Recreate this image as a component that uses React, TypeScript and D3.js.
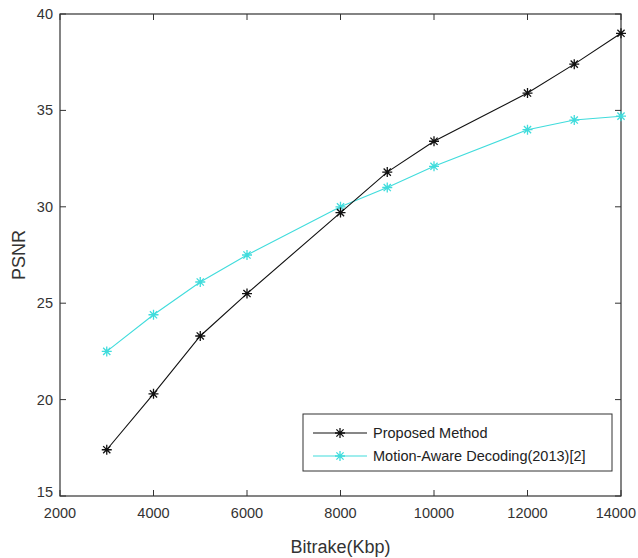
import React, { useEffect, useRef } from "react";
import * as d3 from "d3";

const bitrates = [3000, 4000, 5000, 6000, 8000, 9000, 10000, 12000, 13000, 14000];
const proposed = [17.4, 20.3, 23.3, 25.5, 29.7, 31.8, 33.4, 35.9, 37.4, 39.0];
const motionAware = [22.5, 24.4, 26.1, 27.5, 30.0, 31.0, 32.1, 34.0, 34.5, 34.7];
const xTicks = [2000, 4000, 6000, 8000, 10000, 12000, 14000];
const yTicks = [15, 20, 25, 30, 35, 40];
const seriesNames = ["Proposed Method", "Motion-Aware Decoding(2013)[2]"];
const seriesColors = ["#111111", "#40dcdc"];

const W = 638;
const H = 558;
const margin = { top: 14, right: 17, bottom: 62, left: 60 };

const App = () => {
  const svgRef = useRef(null);

  useEffect(() => {
    const svg = d3.select(svgRef.current);
    svg.selectAll("*").remove();

    const x = d3.scaleLinear().domain([2000, 14000]).range([margin.left, W - margin.right]);
    const y = d3.scaleLinear().domain([15, 40]).range([H - margin.bottom, margin.top]);
    const font = "'Liberation Sans', Arial, sans-serif";

    svg.append("rect").attr("width", W).attr("height", H).attr("fill", "#fff");

    // box
    svg
      .append("rect")
      .attr("x", x(2000))
      .attr("y", y(40))
      .attr("width", x(14000) - x(2000))
      .attr("height", y(15) - y(40))
      .attr("fill", "none")
      .attr("stroke", "#333")
      .attr("stroke-width", 1.2);

    const tl = 6;
    // ticks inside, on all four sides
    xTicks.forEach((t) => {
      svg.append("line").attr("x1", x(t)).attr("x2", x(t)).attr("y1", y(15)).attr("y2", y(15) - tl).attr("stroke", "#333");
      svg.append("line").attr("x1", x(t)).attr("x2", x(t)).attr("y1", y(40)).attr("y2", y(40) + tl).attr("stroke", "#333");
      const last = t === 14000;
      svg
        .append("text")
        .attr("x", last ? W - 2 : x(t))
        .attr("y", y(15) + 22)
        .attr("text-anchor", last ? "end" : "middle")
        .attr("font-family", font)
        .attr("font-size", 14.5)
        .attr("fill", "#333")
        .text(t);
    });
    yTicks.forEach((t) => {
      svg.append("line").attr("x1", x(2000)).attr("x2", x(2000) + tl).attr("y1", y(t)).attr("y2", y(t)).attr("stroke", "#333");
      svg.append("line").attr("x1", x(14000)).attr("x2", x(14000) - tl).attr("y1", y(t)).attr("y2", y(t)).attr("stroke", "#333");
      svg
        .append("text")
        .attr("x", x(2000) - 7)
        .attr("y", y(t) + (t === 15 ? 1 : 5))
        .attr("text-anchor", "end")
        .attr("font-family", font)
        .attr("font-size", 14.5)
        .attr("fill", "#333")
        .text(t);
    });

    svg
      .append("text")
      .attr("x", (x(2000) + x(14000)) / 2)
      .attr("y", 553)
      .attr("text-anchor", "middle")
      .attr("font-family", font)
      .attr("font-size", 18)
      .attr("fill", "#333")
      .text("Bitrake(Kbp)");
    svg
      .append("text")
      .attr("transform", `translate(25, ${(y(15) + y(40)) / 2}) rotate(-90)`)
      .attr("text-anchor", "middle")
      .attr("font-family", font)
      .attr("font-size", 18)
      .attr("fill", "#333")
      .text("PSNR");

    const star = (g, cx, cy, color, r = 5) => {
      const d = r * 0.72;
      const p = `M${cx - r},${cy}L${cx + r},${cy}M${cx},${cy - r}L${cx},${cy + r}M${cx - d},${cy - d}L${cx + d},${cy + d}M${cx - d},${cy + d}L${cx + d},${cy - d}`;
      g.append("path").attr("d", p).attr("stroke", color).attr("stroke-width", 1.3).attr("fill", "none");
    };

    const line = d3
      .line()
      .x((d) => x(d[0]))
      .y((d) => y(d[1]));

    [motionAware, proposed].forEach((vals) => {
      const i = vals === proposed ? 0 : 1;
      const pts = bitrates.map((b, j) => [b, vals[j]]);
      const g = svg.append("g");
      g.append("path").attr("d", line(pts)).attr("fill", "none").attr("stroke", seriesColors[i]).attr("stroke-width", 1.1);
      pts.forEach((p) => star(g, x(p[0]), y(p[1]), seriesColors[i]));
    });

    // legend
    const lg = svg.append("g");
    lg.append("rect")
      .attr("x", 303)
      .attr("y", 414)
      .attr("width", 309)
      .attr("height", 57)
      .attr("fill", "#fff")
      .attr("stroke", "#333")
      .attr("stroke-width", 1);
    seriesNames.forEach((name, i) => {
      const ly = 433 + i * 23;
      lg.append("line").attr("x1", 313).attr("x2", 367).attr("y1", ly).attr("y2", ly).attr("stroke", seriesColors[i]).attr("stroke-width", 1.1);
      star(lg, 340, ly, seriesColors[i]);
      lg.append("text")
        .attr("x", 373)
        .attr("y", ly + 5)
        .attr("font-family", font)
        .attr("font-size", 14.5)
        .attr("fill", "#222")
        .text(name);
    });
  }, []);

  return (
    <svg
      ref={svgRef}
      width={W}
      height={H}
      style={{ position: "absolute", left: 0, top: 0, display: "block" }}
    />
  );
};

export default App;
